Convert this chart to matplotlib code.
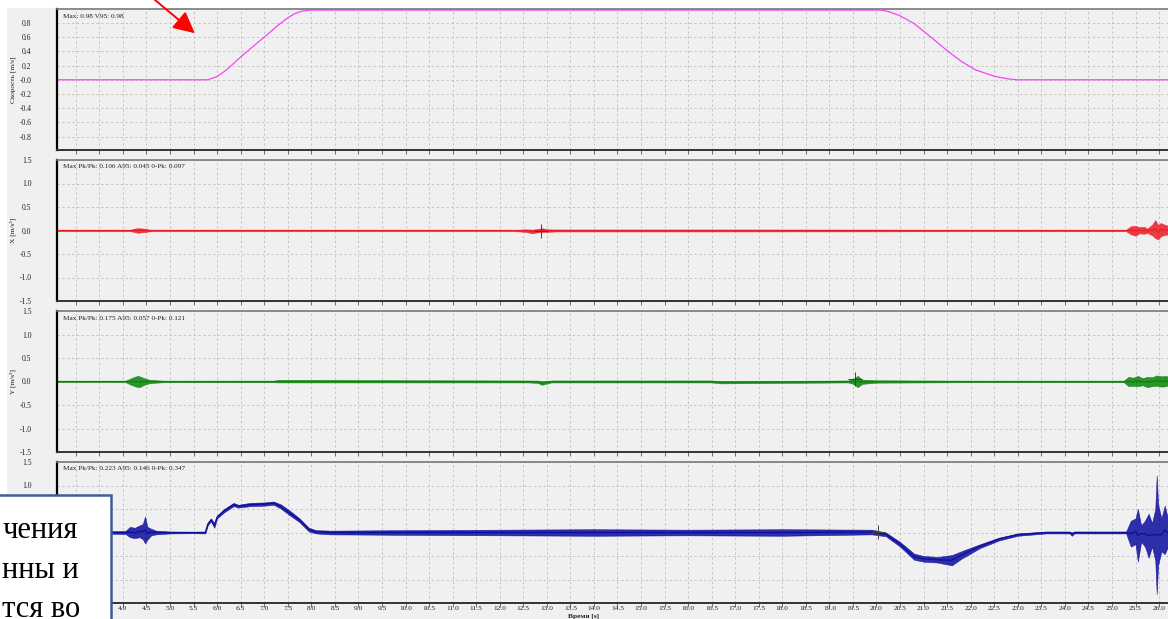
import numpy as np
import matplotlib
matplotlib.use("Agg")
import matplotlib.pyplot as plt
from matplotlib.patches import Rectangle, FancyArrowPatch

W, H = 1168, 619

# ---------------- data ----------------
# speed profile of the car [m/s]
speed_time = [2.6, 5.8, 6.0, 6.2, 6.5, 6.8, 7.0, 7.3, 7.5, 7.65, 7.8, 8.0,
              20.1, 20.25, 20.5, 20.8, 21.1, 21.5, 21.8, 22.1, 22.5, 22.8, 23.0, 26.2]
speed_value = [0.0, 0.0, 0.045, 0.14, 0.32, 0.49, 0.60, 0.77, 0.87, 0.93, 0.965, 0.98,
               0.98, 0.96, 0.90, 0.79, 0.63, 0.41, 0.26, 0.14, 0.05, 0.012, 0.0, 0.0]

# X acceleration envelope [m/s^2]
x_time = [2.6, 4.15, 4.25, 4.32, 4.38, 4.45, 4.55, 4.65, 8.0, 12.3, 12.55, 12.7, 12.8,
          12.9, 13.0, 13.2, 16.0, 20.0, 22.0, 25.3, 25.4, 25.5, 25.58, 25.68, 25.75,
          25.85, 25.92, 25.98, 26.04, 26.1, 26.19]
x_high = [.012, .012, .04, .05, .045, .04, .02, .012, .012, .012, .025, .02, .03,
          .05, .025, .02, .02, .018, .012, .015, .09, .10, .07, .08, .04,
          .12, .22, .12, .16, .13, .10]
x_low = [-.012, -.012, -.035, -.05, -.04, -.035, -.02, -.012, -.012, -.012, -.03, -.06, -.04,
         -.03, -.03, -.02, -.02, -.018, -.012, -.015, -.08, -.11, -.06, -.07, -.05,
         -.10, -.16, -.19, -.12, -.10, -.08]

# Y acceleration envelope [m/s^2]
y_time = [2.6, 4.05, 4.15, 4.25, 4.32, 4.38, 4.45, 4.55, 4.7, 4.9, 7.2, 7.3, 12.6, 12.8,
          12.9, 13.1, 16.5, 16.7, 19.4, 19.5, 19.6, 19.7, 20.0, 22.0, 25.25, 25.35,
          25.45, 25.55, 25.65, 25.75, 25.85, 25.95, 26.05, 26.15, 26.19]
y_high = [.012, .012, .06, .10, .12, .10, .07, .04, .025, .015, .015, .03, .02, .02,
          .01, .02, .02, .01, .02, .05, .12, .04, .025, .015, .015, .10,
          .08, .12, .07, .10, .09, .13, .11, .12, .10]
y_low = [-.012, -.012, -.06, -.10, -.12, -.11, -.07, -.04, -.025, -.015, -.015, -.02, -.02, -.03,
         -.07, -.02, -.02, -.04, -.02, -.05, -.12, -.05, -.025, -.015, -.015, -.10,
         -.09, -.10, -.08, -.12, -.10, -.09, -.11, -.10, -.08]

# Z acceleration envelope [m/s^2]
z_time = [2.6, 4.05, 4.15, 4.25, 4.35, 4.42, 4.47, 4.52, 4.6, 4.7, 5.0, 5.5, 5.75, 5.8,
          5.87, 5.94, 6.0, 6.15, 6.35, 6.45, 6.7, 7.0, 7.2, 7.35, 7.55, 7.75, 7.95,
          8.1, 8.4, 10.0, 12.0, 14.0, 16.0, 18.0, 19.9, 20.2, 20.5, 20.8, 21.0, 21.3,
          21.6, 21.8, 22.2, 22.6, 23.0, 23.6, 24.1, 24.15, 24.2, 25.3, 25.4, 25.5,
          25.55, 25.62, 25.7, 25.78, 25.85, 25.92, 25.95, 25.98, 26.05, 26.12, 26.19]
z_high = [.02, .03, .12, .10, .15, .18, .34, .12, .08, .04, .02, .015, .02, .20,
          .30, .20, .36, .50, .63, .59, .63, .64, .66, .60, .46, .30, .10,
          .05, .04, .05, .06, .07, .06, .07, .06, .0, -.20, -.45, -.50, -.52,
          -.48, -.40, -.25, -.11, -.02, .02, .02, .0, .02, .02, .25, .30,
          .50, .15, .25, .40, .20, .50, 1.21, .60, .30, .57, .30]
z_low = [-.02, -.03, -.10, -.12, -.10, -.14, -.23, -.15, -.06, -.04, -.02, -.015, -.02, .15,
         .24, .10, .30, .43, .56, .53, .56, .57, .59, .51, .36, .22, .02,
         -.02, -.04, -.05, -.06, -.07, -.06, -.07, -.04, -.08, -.30, -.58, -.62, -.64,
         -.70, -.56, -.33, -.17, -.07, -.02, -.02, -.07, -.02, -.02, -.30, -.25,
         -.62, -.20, -.30, -.54, -.30, -.60, -1.31, -.70, -.40, -.46, -.30]

# cursor positions (time, value) per acceleration channel
x_cursor = (12.87, 0.0)
y_cursor = (19.55, 0.05)
z_cursor = (20.03, 0.02)

stats = ["Max: 0.98 V95: 0.98",
         "Max Pk/Pk: 0.106 A95: 0.045 0-Pk: 0.097",
         "Max Pk/Pk: 0.175 A95: 0.057 0-Pk: 0.121",
         "Max Pk/Pk: 0.223 A95: 0.146 0-Pk: 0.347"]
ylabels = ["Скорость [m/s]", "X [m/s²]", "Y [m/s²]", None]
x_label = "Время [s]"

speed_ticks = [0.8, 0.6, 0.4, 0.2, 0.0, -0.2, -0.4, -0.6, -0.8]
speed_tick_labels = ["0.8", "0.6", "0.4", "0.2", "-0.0", "-0.2", "-0.4", "-0.6", "-0.8"]
acc_ticks = [1.5, 1.0, 0.5, 0.0, -0.5, -1.0, -1.5]
acc_tick_labels = ["1.5", "1.0", "0.5", "0.0", "-0.5", "-1.0", "-1.5"]
z_tick_labels = ["1.5", "1.0", "", "", "", "", ""]
time_ticks = [3.0 + 0.5 * i for i in range(47)]
time_tick_labels = [""] * 2 + [f"{t:.1f}" for t in time_ticks[2:]]

note_lines = ["чения", "нны и", "тся во"]

# ---------------- drawing ----------------
BG = "#f0f0f0"
SERIF = ["Liberation Serif", "DejaVu Serif"]
plt.rcParams["font.family"] = SERIF

fig = plt.figure(figsize=(W / 100, H / 100), dpi=100, facecolor=BG)


def fx(px):
    return px / W


def fy(py):
    return 1 - py / H


# white window border strips
fig.add_artist(Rectangle((0, 0), fx(7), 1, transform=fig.transFigure,
                         facecolor="white", edgecolor="none", zorder=-5))
fig.add_artist(Rectangle((0, fy(8)), 1, 8 / H, transform=fig.transFigure,
                         facecolor="white", edgecolor="none", zorder=-5))

panel_tops = [9, 160, 311, 462]
panel_h = 141
left_px = 57
x_min, x_max = 2.6, 26.19

axes = []
for i, top in enumerate(panel_tops):
    ax = fig.add_axes([fx(left_px), fy(top + panel_h), 1 - fx(left_px), panel_h / H])
    ax.set_facecolor(BG)
    ax.set_xlim(x_min, x_max)
    ax.set_xticks(time_ticks)
    ax.grid(True, color="#c6c6c6", linestyle=(0, (2.5, 2.5)), linewidth=0.7)
    ax.set_axisbelow(True)
    ax.spines["right"].set_visible(False)
    ax.spines["left"].set_color("#000000")
    ax.spines["left"].set_linewidth(1.6)
    ax.spines["bottom"].set_color("#333333")
    ax.spines["bottom"].set_linewidth(1.4)
    ax.spines["top"].set_color("#7a7a7a")
    ax.spines["top"].set_linewidth(1.2)
    ax.tick_params(axis="y", length=0, pad=18.5, labelsize=5.5, labelcolor="#202020")
    ax.tick_params(axis="x", direction="out", length=3, width=0.6, color="#555555",
                   pad=-0.6, labelsize=5.3, labelcolor="#202020")
    if i < 3:
        ax.set_xticklabels([])
    else:
        ax.set_xticklabels(time_tick_labels)
    axes.append(ax)
    fig.text(fx(63), fy(top + 7), stats[i], fontsize=5.2, color="#202020",
             ha="left", va="center")
    if ylabels[i]:
        fig.text(fx(13), fy(top + panel_h / 2), ylabels[i], fontsize=5.3, rotation=90,
                 ha="center", va="center", color="#202020")

# speed
ax = axes[0]
ax.set_ylim(-0.987, 0.995)
ax.set_yticks(speed_ticks)
ax.set_yticklabels(speed_tick_labels)
ax.plot(speed_time, speed_value, color="#f048f0", linewidth=0.9)

# acceleration channels
channels = [
    (axes[1], x_time, x_high, x_low, "#ec1c24", x_cursor, acc_tick_labels),
    (axes[2], y_time, y_high, y_low, "#0a840a", y_cursor, acc_tick_labels),
    (axes[3], z_time, z_high, z_low, "#0c0c9c", z_cursor, z_tick_labels),
]
for ax, t, hi, lo, col, cur, labels in channels:
    ax.set_ylim(-1.5, 1.5)
    ax.set_yticks(acc_ticks)
    ax.set_yticklabels(labels)
    hi_a = np.asarray(hi)
    lo_a = np.asarray(lo)
    ax.fill_between(t, lo_a, hi_a, color=col, alpha=0.85, linewidth=0.4, edgecolor=col)
    ax.plot(t, (hi_a + lo_a) / 2, color=col, linewidth=0.9)
    ax.plot(cur[0], cur[1], marker="+", markersize=10, color="#404040",
            markeredgewidth=0.7, linestyle="none")

fig.text(fx(583), fy(616.5), x_label, fontsize=5.3, ha="center", va="center",
         color="#202020", fontweight="bold")

# red pointer arrow
arrow = FancyArrowPatch((fx(137), fy(-15)), (fx(197), fy(35)),
                        transform=fig.transFigure,
                        arrowstyle="-|>,head_length=13,head_width=6.5",
                        mutation_scale=1, color="#ff0000", linewidth=1.4, zorder=20)
fig.add_artist(arrow)

# text note box in the lower-left corner
fig.add_artist(Rectangle((fx(-5), fy(625)), fx(116), (625 - 495) / H,
                         transform=fig.transFigure, facecolor="white",
                         edgecolor="#3d5c99", linewidth=1.8, zorder=20))
for k, line in enumerate(note_lines):
    fig.text(fx(2), fy(538 + 39.5 * k), line, fontsize=22, ha="left", va="baseline",
             color="#000000", zorder=21)

fig.savefig("out.png", dpi=100, facecolor=BG)
